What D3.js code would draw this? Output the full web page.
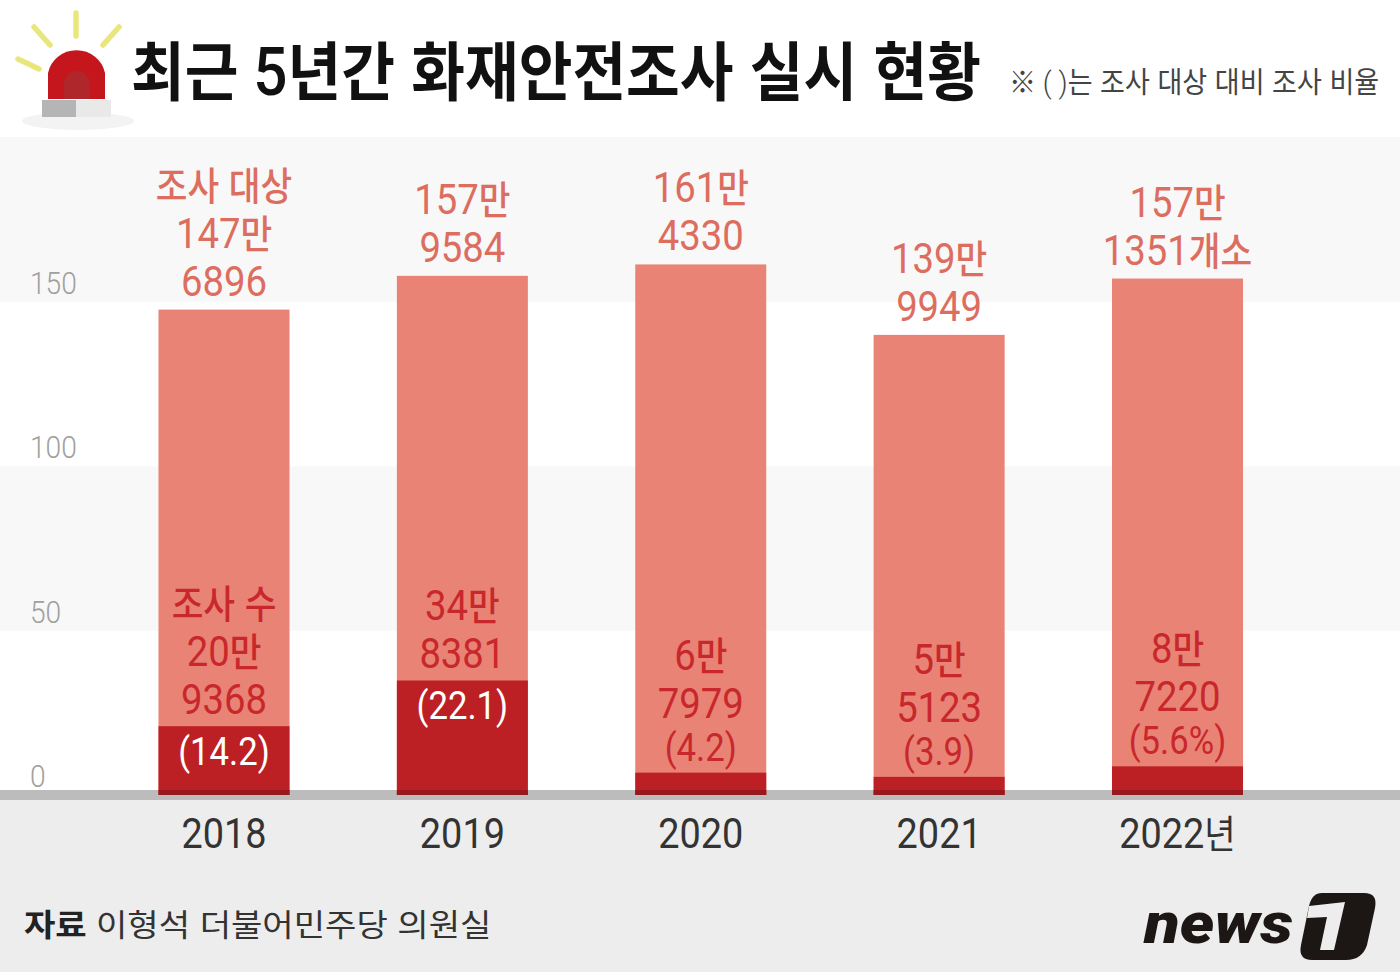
<!DOCTYPE html>
<html lang="ko"><head><meta charset="utf-8">
<script src="https://cdn.jsdelivr.net/npm/d3@7"></script>
<style>html,body{margin:0;padding:0;background:#fff}svg{display:block}text{font-family:"Noto Sans CJK KR","Noto Sans",sans-serif}</style>
</head><body><svg id="c" width="1400" height="972"></svg>
<script>
const categories=["2018","2019","2020","2021","2022"];
const tickLabels=["2018","2019","2020","2021","2022년"];
const targetValues=[147.6896,157.9584,161.4330,139.9949,157.1351];
const surveyValues=[20.9368,34.8381,6.7979,5.5123,8.7220];
const targetLabels=[["조사 대상","147만","6896"],["157만","9584"],["161만","4330"],["139만","9949"],["157만","1351개소"]];
const surveyLabels=[["조사 수","20만","9368"],["34만","8381"],["6만","7979"],["5만","5123"],["8만","7220"]];
const ratioLabels=["(14.2)","(22.1)","(4.2)","(3.9)","(5.6%)"];
const yTicks=[0,50,100,150];
const svg=d3.select("#c");
const y=d3.scaleLinear().domain([0,150]).range([795,302]);
const x=d3.scalePoint().domain(categories).range([224,1177.5]);
const barW=131;
// mixed text: latin/digit runs in Roboto, Hangul runs in Noto CJK
function label(g,tx,ty,s,size,fill,sx,opt){
  opt=opt||{};
  const t=g.append("text").attr("transform",`translate(${tx},${ty}) scale(${sx},1)`)
   .attr("text-anchor",opt.anchor||"middle").attr("fill",fill);
  (s+"").match(/[\uAC00-\uD7A3※]+(?: [\uAC00-\uD7A3※]+)*|[^\uAC00-\uD7A3※]+/g).forEach(run=>{
    const hangul=/[\uAC00-\uD7A3※]/.test(run);
    t.append("tspan").text(run).attr("xml:space","preserve")
     .style("font-family",hangul?'"Noto Sans CJK KR"':'Roboto')
     .attr("font-size",hangul?size*(opt.hr||.9):size)
     .attr("font-weight",hangul?(opt.hw||500):(opt.lw||400));
  });
  return t;
}
// backgrounds
svg.append("rect").attr("width",1400).attr("height",972).attr("fill","#fff");
svg.append("rect").attr("x",0).attr("y",137).attr("width",1400).attr("height",y(150)-137).attr("fill","#f8f8f8");
svg.append("rect").attr("x",0).attr("y",y(100)).attr("width",1400).attr("height",y(50)-y(100)).attr("fill","#f8f8f8");
svg.append("rect").attr("x",0).attr("y",800).attr("width",1400).attr("height",172).attr("fill","#ededed");
svg.append("rect").attr("x",0).attr("y",790).attr("width",1400).attr("height",10).attr("fill","#bcbcbc");
// y ticks
const yg=svg.append("g");
yTicks.forEach(t=>label(yg,30,y(t)-8,t,32,"#a0a0a0",.88,{anchor:"start",lw:300}));
// bars
const bars=svg.append("g");
bars.selectAll(".t").data(targetValues).join("rect").attr("x",(d,i)=>x(categories[i])-barW/2).attr("width",barW)
  .attr("y",d=>y(d)).attr("height",d=>y(0)-y(d)).attr("fill","#e98375");
bars.selectAll(".s").data(surveyValues).join("rect").attr("x",(d,i)=>x(categories[i])-barW/2).attr("width",barW)
  .attr("y",d=>y(d)).attr("height",d=>y(0)-y(d)).attr("fill","#bd2024");
categories.forEach(c=>svg.append("rect").attr("x",x(c)-barW/2).attr("y",790).attr("width",barW).attr("height",5).attr("fill","#97191d"));
// labels
const lg=svg.append("g");
const LH=48;
const S=43, SX=.89;
categories.forEach((c,i)=>{
  const cx=x(c);
  const tl=targetLabels[i];
  tl.forEach((s,j)=>label(lg,cx,y(targetValues[i])-14-(tl.length-1-j)*LH,s,S,"#dc6d5f",SX));
  const sl=surveyLabels[i];
  const inside=i<2;
  const base=inside?y(surveyValues[i])-12:y(surveyValues[i])-55;
  sl.forEach((s,j)=>label(lg,cx,base-(sl.length-1-j)*LH,s,S,"#c8282c",SX));
  const ry=inside?y(surveyValues[i])+39:y(surveyValues[i])-12;
  label(lg,cx,ry,ratioLabels[i],39,inside?"#fff":"#c8282c",SX);
});
// x axis labels
categories.forEach((c,i)=>label(lg,x(c),848,tickLabels[i],43,"#333",.88,{hr:.9,hw:400}));
// title
label(svg,131,95,"최근 5년간 화재안전조사 실시 현황",66,"#111",.912,{anchor:"start",hr:.97,hw:700,lw:500});
label(svg,1009,93,"※ ( )는 조사 대상 대비 조사 비율",30,"#444",.93,{anchor:"start",hr:.97,hw:400,lw:300});
// source
svg.append("text").attr("transform","translate(24,936) scale(1.1,1)").attr("font-size",31).attr("font-weight",700).attr("fill","#222").text("자료");
svg.append("text").attr("transform","translate(96,936) scale(1.1,1)").attr("font-size",31).attr("font-weight",400).attr("fill","#333").text("이형석 더불어민주당 의원실");
// siren icon
const ic=svg.append("g");
ic.append("ellipse").attr("cx",78).attr("cy",121).attr("rx",56).attr("ry",9).attr("fill","#f3f3f3");
[[76,13,76,36],[34,27,50,45],[119,27,103,45],[18,59,39,69]].forEach(a=>ic.append("line").attr("x1",a[0]).attr("y1",a[1]).attr("x2",a[2]).attr("y2",a[3]).attr("stroke","#e9e67e").attr("stroke-width",5.5).attr("stroke-linecap","round"));
ic.append("path").attr("d","M48,99 V73 A29,28 0 0 1 105,73 V99 Z").attr("fill","#c4161c");
ic.append("path").attr("d","M64,99 V85 A13,14 0 0 1 90,85 V99 Z").attr("fill","#b0272b");
ic.append("rect").attr("x",42).attr("y",100).attr("width",34).attr("height",17).attr("fill","#b5b5b5");
ic.append("rect").attr("x",76).attr("y",100).attr("width",35).attr("height",17).attr("fill","#e9e9e9");
// news1 logo
const lo=svg.append("g");
lo.append("text").attr("transform","translate(1144,943) scale(1.09,.95)").style("font-family","Roboto").style("font-style","italic")
  .attr("font-size",60).attr("font-weight",900).attr("fill","#1c1715").text("news");
lo.append("path").attr("d","M1322,893 H1364 Q1378,893 1375,908 L1367,945 Q1362,960 1346,960 H1312 Q1298,960 1301,945 L1309,906 Q1312,893 1322,893 Z").attr("fill","#1c1715");
lo.append("path").attr("d","M1309,906 L1345,902 L1334,950 L1320,950 L1327,917 L1307,918 Z").attr("fill","#ededed");
</script></body></html>
